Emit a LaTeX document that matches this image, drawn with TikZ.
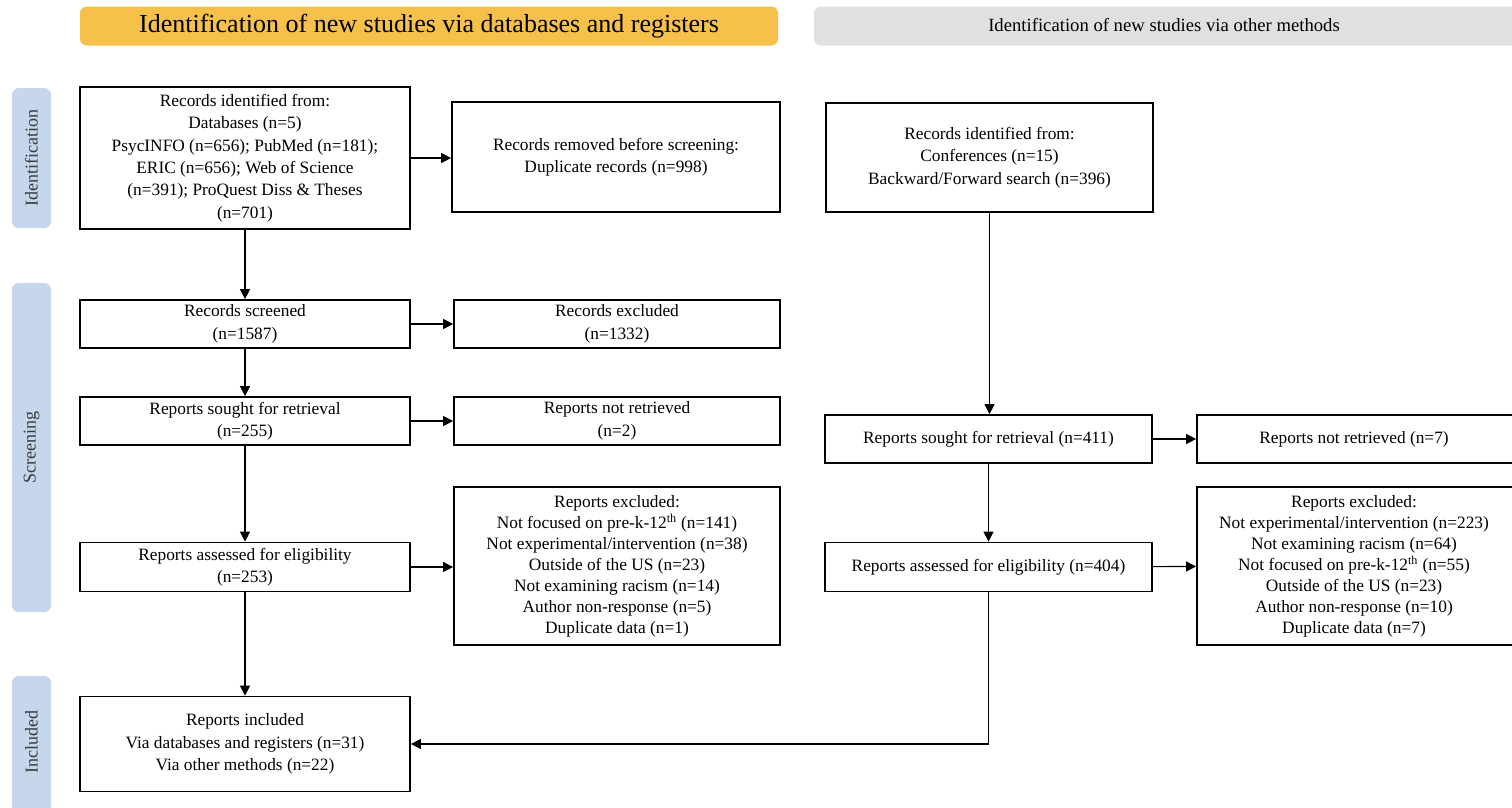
\documentclass[tikz,border=0pt]{standalone}
\usepackage{fontspec}
\setmainfont{Liberation Serif}
\usetikzlibrary{arrows.meta}
\definecolor{hdryellow}{HTML}{F5C14B}
\definecolor{hdrgray}{HTML}{E0E0E0}
\definecolor{sideblue}{HTML}{C6D6EC}
\definecolor{sidetext}{HTML}{3A3A3A}
\tikzset{
  bx/.style n args={2}{minimum width=#1*0.75pt, minimum height=#2*0.75pt},
  box/.style={draw, line width=1.3pt, inner sep=0pt, align=center, font=\fontsize{13}{16.8}\selectfont},
  boxw/.style={box, font=\fontsize{13}{15.75}\selectfont},
  hdr/.style={rounded corners=5pt, inner sep=0pt},
  side/.style={fill=sideblue, rounded corners=5pt, inner sep=0pt},
  sidelbl/.style={rotate=90, text=sidetext, font=\fontsize{13.5}{15}\selectfont},
  arr/.style={line width=0.8pt, -{Triangle[length=7.5pt,width=7.5pt]}},
}
\begin{document}
\begin{tikzpicture}[x=0.75pt,y=-0.75pt]
\useasboundingbox (0,0) rectangle (1512,807);
\clip (0,0) rectangle (1512,807);
% headers
\node[hdr, fill=hdryellow, bx={698}{39}, font=\fontsize{19.5}{22}\selectfont] (h1) at (429,26) {Identification of new studies via databases and registers};
\node[hdr, fill=hdrgray, bx={720}{39}] (h2) at (1174,26) {};
\node[font=\fontsize{14}{16}\selectfont] (h2t) at (1164,25) {Identification of new studies via other methods};
% side labels
\node[side, bx={39}{140}] (s1) at (31.5,158) {};
\node[sidelbl] at (s1) {Identification};
\node[side, bx={39}{329}] (s2) at (31.5,447.5) {};
\node[sidelbl] at (s2) {Screening};
\node[side, bx={39}{150}] (s3) at (31.5,751) {};
\node[sidelbl] at (31.5,742) {Included};
% left column
\node[box, bx={330}{142}] (A) at (245,158) {Records identified from:\\Databases (n=5)\\PsycINFO (n=656); PubMed (n=181);\\ERIC (n=656); Web of Science\\(n=391); ProQuest Diss \& Theses\\(n=701)};
\node[box, bx={328}{110}] (B) at (616,157) {Records removed before screening:\\Duplicate records (n=998)};
\node[box, bx={330}{48}] (C) at (245,324) {Records screened\\(n=1587)};
\node[box, bx={326}{48}] (D) at (617,324) {Records excluded\\(n=1332)};
\node[box, bx={330}{48}] (E) at (245,421) {Reports sought for retrieval\\(n=255)};
\node[box, bx={326}{48}] (F) at (617,421) {Reports not retrieved\\(n=2)};
\node[box, bx={330}{49}] (G) at (245,567) {Reports assessed for eligibility\\(n=253)};
\node[boxw, bx={326}{158}] (H) at (617,566) {Reports excluded:\\Not focused on pre-k-12\textsuperscript{th} (n=141)\\Not experimental/intervention (n=38)\\Outside of the US (n=23)\\Not examining racism (n=14)\\Author non-response (n=5)\\Duplicate data (n=1)};
\node[box, bx={330}{95}] (I) at (245,744) {Reports included\\Via databases and registers (n=31)\\Via other methods (n=22)};
% right column
\node[box, bx={327}{109}] (J) at (989.5,157.5) {Records identified from:\\Conferences (n=15)\\Backward/Forward search (n=396)};
\node[box, bx={327}{48}] (K) at (988.5,439) {Reports sought for retrieval (n=411)};
\node[box, bx={330}{48}] (L) at (1362,439) {};
\node[font=\fontsize{13}{16}\selectfont] (Lt) at (1354,439) {Reports not retrieved (n=7)};
\node[box, bx={327}{49}] (M) at (988.5,567) {Reports assessed for eligibility (n=404)};
\node[box, bx={330}{158}] (N) at (1362,566) {};
\node[align=center, font=\fontsize{13}{15.75}\selectfont] (Nt) at (1354,566) {Reports excluded:\\Not experimental/intervention (n=223)\\Not examining racism (n=64)\\Not focused on pre-k-12\textsuperscript{th} (n=55)\\Outside of the US (n=23)\\Author non-response (n=10)\\Duplicate data (n=7)};
% arrows left
\draw[arr] (A) -- (A -| B.west);
\draw[arr] (A.south) -- (C.north);
\draw[arr] (C) -- (D);
\draw[arr] (C.south) -- (E.north);
\draw[arr] (E) -- (F);
\draw[arr] (E.south) -- (G.north);
\draw[arr] (G) -- (G -| H.west);
\draw[arr] (G.south) -- (I.north);
% arrows right
\draw[arr] (J.south) -- (J.south |- K.north);
\draw[arr] (K) -- (L);
\draw[arr] (K.south) -- (M.north);
\draw[arr] (M) -- (N);
\draw[arr] (M.south) -- (M.south |- I.east) -- (I.east);
\end{tikzpicture}
\end{document}
